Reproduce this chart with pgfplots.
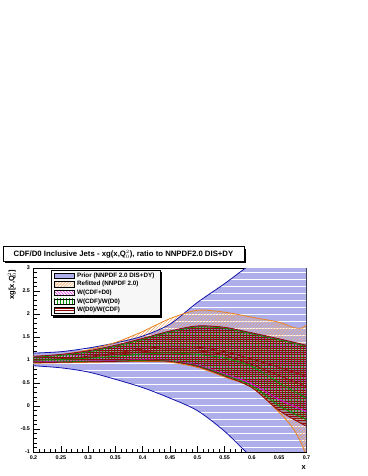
\documentclass[border=0pt]{standalone}
\usepackage{fontspec}
\setmainfont{Liberation Sans}
\usepackage{pgfplots}
\usepackage{pgfplotstable}
\pgfplotsset{compat=1.18}
\usepgfplotslibrary{fillbetween}
\usetikzlibrary{patterns}

\definecolor{priorfill}{RGB}{174,174,234}
\definecolor{priorline}{RGB}{20,20,170}
\definecolor{reforange}{RGB}{235,130,30}
\definecolor{wmag}{RGB}{225,0,225}
\definecolor{wgreen}{RGB}{0,150,0}
\definecolor{wred}{RGB}{140,10,10}
\definecolor{wbrown}{RGB}{120,60,40}

% hatch patterns
\pgfdeclarepatternformonly{priorlines}{\pgfpoint{-1pt}{-1pt}}{\pgfpoint{2pt}{8bp}}{\pgfpoint{1pt}{7bp}}{
  \pgfpathrectangle{\pgfpoint{-0.5pt}{0pt}}{\pgfpoint{2pt}{1.1bp}}\pgfusepath{fill}}
\pgfdeclarepatternformonly{redlines}{\pgfpoint{-1pt}{-1pt}}{\pgfpoint{2pt}{3bp}}{\pgfpoint{1pt}{2.2bp}}{
  \pgfpathrectangle{\pgfpoint{-0.5pt}{0pt}}{\pgfpoint{2pt}{0.6bp}}\pgfusepath{fill}}
\pgfdeclarepatternformonly{greenlines}{\pgfpoint{-1pt}{-1pt}}{\pgfpoint{4bp}{2pt}}{\pgfpoint{3bp}{1pt}}{
  \pgfpathrectangle{\pgfpoint{0pt}{-0.5pt}}{\pgfpoint{0.4bp}{2pt}}\pgfusepath{fill}}

% bands: x, lower edge, upper edge
\pgfplotstableread{
x     lo     hi
0.20  0.875  1.15
0.25  0.83   1.18
0.30  0.74   1.26
0.35  0.58   1.37
0.40  0.40   1.52
0.45  0.17   1.78
0.50  -0.10  2.25
0.55  -0.55  2.66
0.60  -1.12  3.10
0.65  -1.60  3.50
0.70  -2.10  3.90
}\prior
\pgfplotstableread{
x     lo     hi
0.20  0.93   1.08
0.25  0.94   1.12
0.30  0.95   1.22
0.35  0.96   1.38
0.40  0.97   1.62
0.45  0.95   1.90
0.50  0.84   2.08
0.55  0.63   2.04
0.60  0.40   1.93
0.65  -0.14  1.82
0.675 -0.48  1.71
0.69  -0.80  1.69
0.70  -1.10  1.76
}\refit
\pgfplotstableread{
x     lo     hi
0.20  0.96   1.07
0.25  0.97   1.11
0.30  0.98   1.19
0.35  0.99   1.31
0.40  1.00   1.46
0.45  0.98   1.62
0.50  0.89   1.73
0.55  0.70   1.70
0.60  0.48   1.58
0.65  0.14   1.45
0.70  -0.12  1.31
}\wsum
\pgfplotstableread{
x     lo     hi
0.20  0.95   1.06
0.25  0.96   1.10
0.30  0.97   1.18
0.35  0.98   1.30
0.40  0.99   1.45
0.45  0.975  1.61
0.50  0.875  1.72
0.55  0.675  1.69
0.60  0.44   1.57
0.65  0.00   1.44
0.70  -0.30  1.30
}\wcdf
\pgfplotstableread{
x     lo     hi
0.20  0.94   1.08
0.25  0.95   1.12
0.30  0.96   1.20
0.35  0.97   1.32
0.40  0.98   1.47
0.45  0.97   1.63
0.50  0.86   1.74
0.55  0.65   1.71
0.60  0.40   1.59
0.65  -0.10  1.46
0.70  -0.44  1.32
}\wdz
% lines running inside the reweighted bands
\pgfplotstableread{
x     a      b      c
0.20  1.00   1.00   1.00
0.25  1.03   1.02   1.01
0.30  1.08   1.06   1.04
0.35  1.15   1.12   1.08
0.40  1.24   1.18   1.13
0.45  1.30   1.22   1.15
0.50  1.28   1.20   1.12
0.55  1.18   1.11   1.04
0.60  1.02   0.90   0.86
0.65  0.84   0.66   0.50
0.70  0.64   0.42   0.17
}\inner

\pgfplotsset{
  priorpat/.style={pattern=priorlines, pattern color=white},
  refsty/.style={pattern=north east lines, pattern color=reforange!75},
  magsty/.style={pattern=north west lines, pattern color=wmag},
  grnsty/.style={pattern=greenlines, pattern color=wgreen},
  redsty/.style={pattern=redlines, pattern color=wred},
}

\begin{document}
\begin{tikzpicture}
\path (0bp,0bp) rectangle (368bp,476bp);
% title box
\fill[black] (5bp,213bp) rectangle (246bp,227bp);
\node[draw=black, fill=white, line width=0.5bp, minimum width=241bp, minimum height=14.5bp, inner sep=0pt,
  font=\fontsize{7.8}{9}\selectfont\bfseries] at (123.5bp,222bp) {CDF/D0 Inclusive Jets - xg(x,Q$_0^2$), ratio to NNPDF2.0 DIS+DY};
\begin{axis}[
  at={(33.5bp,24bp)}, anchor=south west,
  scale only axis, width=273bp, height=184bp,
  xmin=0.2, xmax=0.7, ymin=-1, ymax=3,
  xtick={0.2,0.25,0.3,0.35,0.4,0.45,0.5,0.55,0.6,0.65,0.7},
  xticklabels={0.2,0.25,0.3,0.35,0.4,0.45,0.5,0.55,0.6,0.65,0.7},
  ytick={-1,-0.5,0,0.5,1,1.5,2,2.5,3},
  yticklabels={-1,-0.5,0,0.5,1,1.5,2,2.5,3},
  minor x tick num=4, minor y tick num=4,
  xtick pos=left, ytick pos=left, tick align=inside,
  major tick length=6bp, minor tick length=3bp,
  tick style={black, line width=0.5bp},
  axis line style={line width=0.6bp},
  tick label style={font=\fontsize{5.4}{6}\selectfont\bfseries},
  xlabel={x}, ylabel={xg[x,Q$_0^2$]},
  label style={font=\fontsize{7.5}{8}\selectfont\bfseries},
  xlabel style={at={(rel axis cs:0.99,0)}, anchor=center, yshift=-16bp},
  ylabel style={at={(rel axis cs:-0.079,1.01)}, anchor=east},
  legend image code/.code={\draw[#1] (0bp,-2.7bp) rectangle (20bp,2.7bp);},
  legend cell align=left,
  legend style={name=leg, at={(rel axis cs:0.064,0.99)}, anchor=north west, draw=black, fill=gray!6,
    line width=0.5bp, font=\fontsize{6.3}{7}\selectfont\bfseries, row sep=0.6bp,
    inner xsep=3bp, inner ysep=1.5bp, nodes={inner ysep=1bp, inner xsep=2.5bp}},
]
% edges as named paths
\addplot[name path=plo, draw=none, smooth, forget plot] table[x=x,y=lo]{\prior};
\addplot[name path=phi, draw=none, smooth, forget plot] table[x=x,y=hi]{\prior};
\addplot[name path=rlo, draw=none, smooth, forget plot] table[x=x,y=lo]{\refit};
\addplot[name path=rhi, draw=none, smooth, forget plot] table[x=x,y=hi]{\refit};
\addplot[name path=mlo, draw=none, smooth, forget plot] table[x=x,y=lo]{\wsum};
\addplot[name path=mhi, draw=none, smooth, forget plot] table[x=x,y=hi]{\wsum};
\addplot[name path=glo, draw=none, smooth, forget plot] table[x=x,y=lo]{\wcdf};
\addplot[name path=ghi, draw=none, smooth, forget plot] table[x=x,y=hi]{\wcdf};
\addplot[name path=dlo, draw=none, smooth, forget plot] table[x=x,y=lo]{\wdz};
\addplot[name path=dhi, draw=none, smooth, forget plot] table[x=x,y=hi]{\wdz};
% band fills
\addplot[fill=priorfill, draw=none, forget plot] fill between[of=plo and phi];
\addplot[priorpat, draw=none, forget plot] fill between[of=plo and phi];
\addplot[refsty, draw=none, forget plot] fill between[of=rlo and rhi];
\addplot[fill=wbrown, fill opacity=0.35, draw=none, forget plot] fill between[of=dlo and dhi];
\addplot[magsty, draw=none, forget plot] fill between[of=mlo and mhi];
\addplot[grnsty, draw=none, forget plot] fill between[of=glo and ghi];
\addplot[redsty, draw=none, forget plot] fill between[of=dlo and dhi];
% lines inside the bands
\addplot[wred, line width=0.7bp, smooth, forget plot] table[x=x,y=a]{\inner};
\addplot[wred, line width=0.7bp, smooth, forget plot] table[x=x,y=b]{\inner};
\addplot[wgreen, line width=0.7bp, smooth, forget plot] table[x=x,y=c]{\inner};
% band edges
\addplot[priorline, line width=0.8bp, smooth, forget plot] table[x=x,y=lo]{\prior};
\addplot[priorline, line width=0.8bp, smooth, forget plot] table[x=x,y=hi]{\prior};
\addplot[reforange, line width=0.8bp, smooth, forget plot] table[x=x,y=lo]{\refit};
\addplot[reforange, line width=0.8bp, smooth, forget plot] table[x=x,y=hi]{\refit};
\addplot[wmag, line width=0.8bp, smooth, forget plot] table[x=x,y=lo]{\wsum};
\addplot[wmag, line width=0.8bp, smooth, forget plot] table[x=x,y=hi]{\wsum};
\addplot[wgreen, line width=0.8bp, smooth, forget plot] table[x=x,y=lo]{\wcdf};
\addplot[wgreen, line width=0.8bp, smooth, forget plot] table[x=x,y=hi]{\wcdf};
\addplot[wred, line width=0.8bp, smooth, forget plot] table[x=x,y=lo]{\wdz};
\addplot[wred, line width=0.8bp, smooth, forget plot] table[x=x,y=hi]{\wdz};
% legend
\addlegendimage{draw=black, line width=0.4bp, fill=priorfill, postaction={pattern=priorlines, pattern color=white}}
\addlegendentry{Prior (NNPDF 2.0 DIS+DY)}
\addlegendimage{draw=black, line width=0.4bp, fill=white, refsty}
\addlegendentry{Refitted (NNPDF 2.0)}
\addlegendimage{draw=black, line width=0.4bp, fill=white, magsty}
\addlegendentry{W(CDF+D0)}
\addlegendimage{draw=black, line width=0.4bp, fill=white, grnsty}
\addlegendentry{W(CDF)/W(D0)}
\addlegendimage{draw=black, line width=0.4bp, fill=white, redsty}
\addlegendentry{W(D0)/W(CDF)}
\end{axis}
% legend shadow
\fill[black] ([yshift=-2bp]leg.north east) rectangle ([xshift=2bp,yshift=-2bp]leg.south east);
\fill[black] ([xshift=2bp]leg.south west) rectangle ([yshift=-2bp]leg.south east);
\end{tikzpicture}
\end{document}
